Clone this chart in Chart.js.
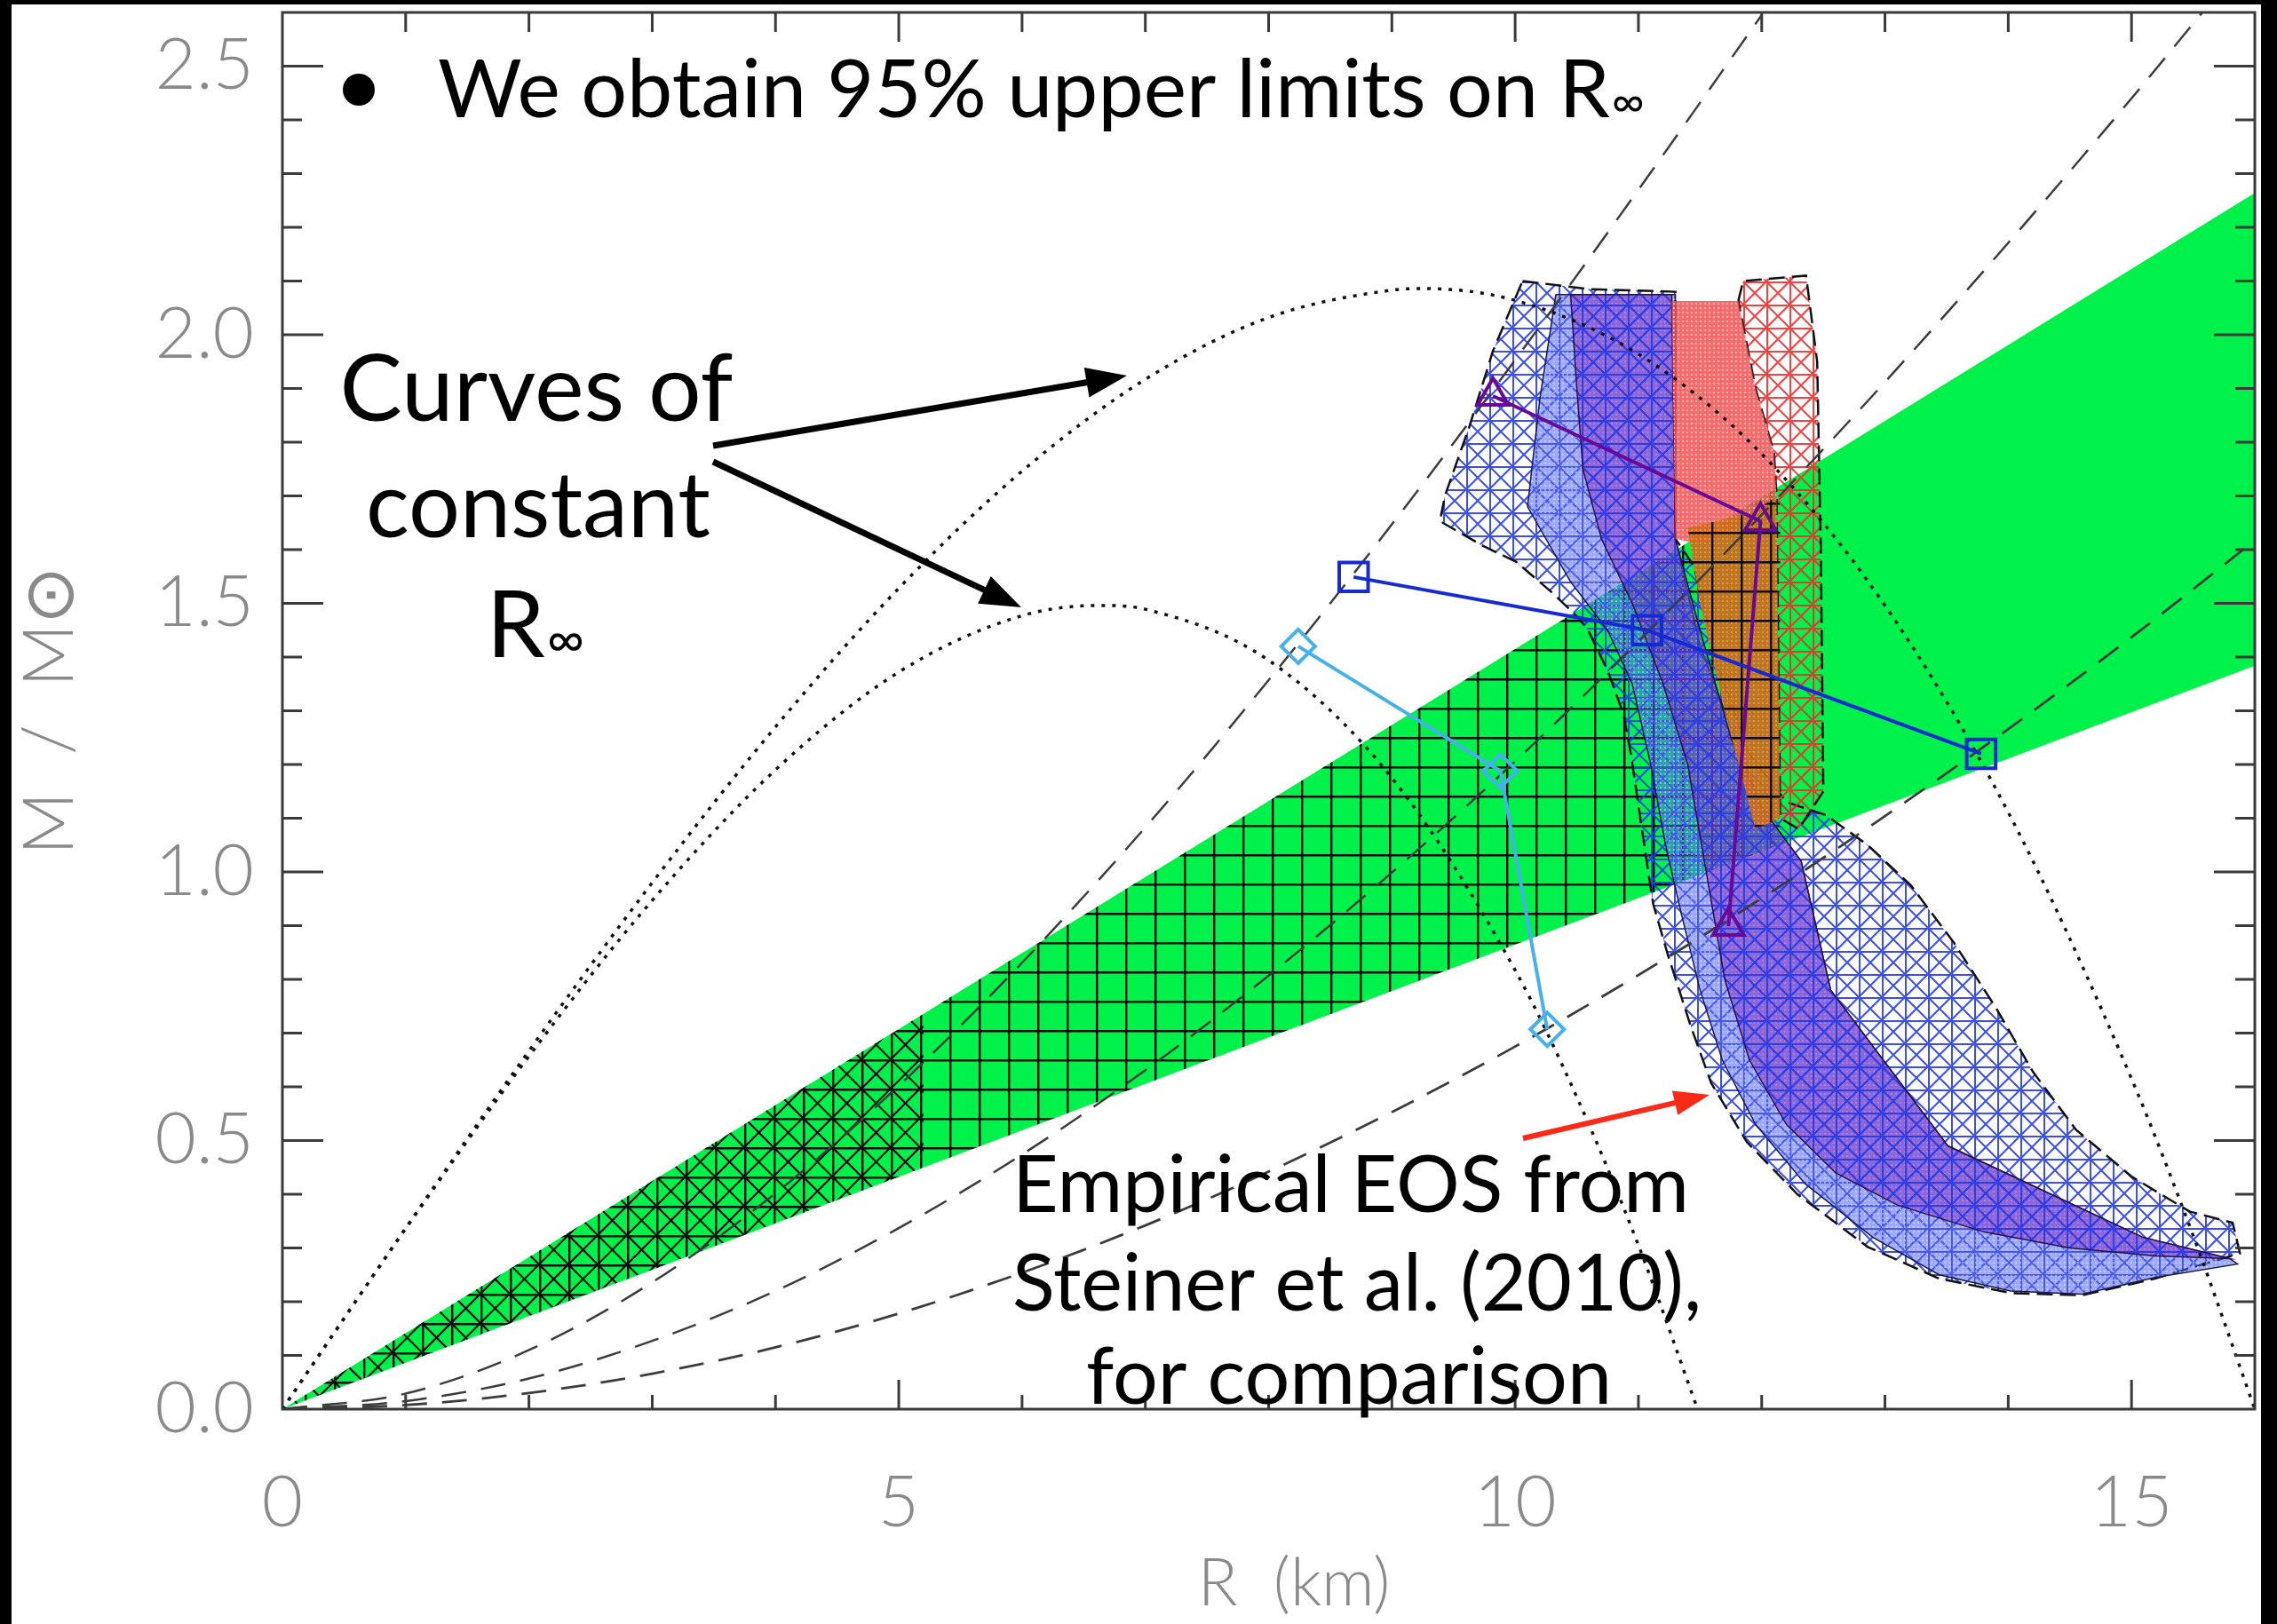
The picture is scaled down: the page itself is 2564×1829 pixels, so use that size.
<!DOCTYPE html>
<html>
<head>
<meta charset="utf-8">
<script src="https://cdn.jsdelivr.net/npm/chart.js@4.4.1/dist/chart.umd.min.js"></script>
<style>
  html, body { margin: 0; padding: 0; background: #000; }
  body { width: 2564px; height: 1829px; overflow: hidden; position: relative; }
  #grafico { position: absolute; left: 13px; top: 5px; }
</style>
</head>
<body>
<canvas id="grafico" width="2533" height="1824"></canvas>
<script>
// ---------------- dados ----------------
const xMajor = [0, 5, 10, 15];
const yMajor = [0, 0.5, 1, 1.5, 2, 2.5];

// curvas de R_inf constante (pontilhadas)
const rInfAlta = [[0,0],[1,0.337],[2,0.667],[3,0.980],[4,1.270],[5,1.528],[6,1.746],[7,1.917],[8,2.032],[9,2.083],[9.24,2.086],[10,2.064],[11,1.964],[12,1.778],[13,1.496],[14,1.111],[15,0.615],[15.5,0.323],[16,0]];
const rInfBaixa = [[0,0],[1,0.336],[2,0.657],[3,0.947],[4,1.190],[5,1.372],[6,1.477],[6.63,1.496],[7,1.489],[8,1.394],[9,1.175],[10,0.817],[10.5,0.581],[11,0.305],[11.48,0]];

// curvas tracejadas
const tracejadaA = [[0,0],[1,0.029],[2,0.110],[3,0.236],[4,0.402],[5,0.602],[6,0.831],[7,1.083],[8,1.357],[9,1.647],[10,1.953],[11,2.270],[12,2.595]];
const tracejadaB = [[0,0],[1,0.015],[2,0.057],[3,0.127],[4,0.220],[5,0.337],[6,0.474],[7,0.631],[8,0.807],[9,0.999],[10,1.206],[11,1.429],[12,1.665],[13,1.912],[14,2.171],[15,2.440],[15.6,2.607]];
const tracejadaC = [[0,0],[1,0.0075],[2,0.030],[3,0.066],[4,0.115],[5,0.178],[6,0.254],[7,0.342],[8,0.442],[9,0.553],[10,0.675],[11,0.808],[12,0.951],[13,1.104],[14,1.266],[15,1.437],[16,1.617]];

// faixa verde
const faixaVerde = [[0,0],[16,2.264],[16,1.384]];
const verdeGrade = [[0,0],[12.15,1.719],[12.15,1.051]];
const verdeX = [[0,0],[5.2,0.736],[5.2,0.450]];

// regioes Steiner et al.
const azul2s = [[10.06,2.10],[10.6,2.085],[11.3,2.08],[11.3,1.62],[11.45,1.57],[11.65,1.38],[11.9,1.22],[12.2,1.13],[12.52,1.106],[12.86,1.05],[13.21,0.975],[13.56,0.868],[13.9,0.747],[14.2,0.628],[14.55,0.52],[15.0,0.433],[15.47,0.368],[15.82,0.347],[15.88,0.29],[15.19,0.243],[14.6,0.212],[14.02,0.216],[13.44,0.243],[12.86,0.302],[12.29,0.40],[11.88,0.497],[11.59,0.607],[11.42,0.716],[11.24,0.845],[11.12,0.94],[11.06,1.03],[10.94,1.218],[10.88,1.293],[10.75,1.375],[10.59,1.451],[10.5,1.476],[10.3,1.52],[10.01,1.577],[9.73,1.608],[9.39,1.653],[9.43,1.70],[9.63,1.83],[9.82,1.97]];
const azul1s = [[10.33,2.075],[11.3,2.075],[11.3,1.62],[11.5,1.42],[12.0,1.12],[12.32,1.02],[12.56,0.78],[13.51,0.49],[15.09,0.32],[15.8,0.28],[15.86,0.27],[15.19,0.245],[14.6,0.214],[14.02,0.22],[13.44,0.25],[12.9,0.32],[12.35,0.42],[11.95,0.53],[11.68,0.65],[11.5,0.78],[11.35,0.92],[11.22,1.05],[11.1,1.2],[10.95,1.35],[10.75,1.45],[10.45,1.54],[10.1,1.68],[10.2,1.88]];
const roxo = [[10.45,2.075],[11.27,2.075],[11.3,1.62],[11.5,1.45],[11.75,1.25],[12.0,1.12],[12.32,1.02],[12.56,0.78],[13.51,0.49],[15.09,0.32],[15.8,0.28],[15.2,0.285],[14.5,0.30],[13.8,0.33],[13.1,0.38],[12.6,0.44],[12.2,0.53],[11.9,0.65],[11.7,0.8],[11.55,1.0],[11.4,1.2],[11.2,1.35],[10.95,1.5],[10.7,1.62],[10.55,1.75],[10.5,1.9]];
const vermelho1s = [[11.27,2.063],[11.81,2.063],[11.95,1.9],[12.1,1.78],[12.12,1.70],[11.94,1.66],[11.52,1.61],[11.3,1.62]];
const laranja = [[11.40,1.64],[11.94,1.67],[12.12,1.70],[12.15,1.10],[11.95,1.08],[11.7,1.3],[11.5,1.5]];
const vermelho2s = [[11.81,2.063],[11.85,2.10],[12.36,2.11],[12.45,1.95],[12.48,1.60],[12.50,1.15],[12.3,1.08],[12.15,1.10],[12.12,1.70],[12.1,1.78],[11.95,1.9]];

// pontos com marcadores
const serieTriangulos = [[9.82,1.886],[11.99,1.653],[11.73,0.899]];
const serieQuadrados = [[8.69,1.549],[11.07,1.45],[13.78,1.22]];
const serieLosangos = [[8.24,1.42],[9.88,1.188],[10.26,0.707]];

// ---------------- estilos ----------------
const fonteEixo = "'Lato', 'DejaVu Sans', sans-serif";
const fonteTexto = "'Lato', 'Open Sans', sans-serif";
const corRotulo = '#8a8a8a';

const canvas = document.getElementById('grafico');
const ctx = canvas.getContext('2d');

function padrao(tam, desenha) {
  const c = document.createElement('canvas');
  c.width = tam; c.height = tam;
  const g = c.getContext('2d');
  desenha(g, tam);
  return ctx.createPattern(c, 'repeat');
}
function pontos(cor, corPonto) {
  return padrao(5, (g, t) => {
    g.fillStyle = cor; g.fillRect(0, 0, t, t);
    g.fillStyle = corPonto; g.fillRect(1, 1, 2, 2);
  });
}
function hachuraX(cor, tam, lw, grade) {
  return padrao(tam, (g, t) => {
    g.strokeStyle = cor; g.lineWidth = lw;
    g.beginPath();
    if (grade) {
      g.moveTo(lw / 2, 0); g.lineTo(lw / 2, t);
      g.moveTo(0, lw / 2); g.lineTo(t, lw / 2);
    }
    g.moveTo(0, 0); g.lineTo(t, t);
    g.moveTo(0, t); g.lineTo(t, 0);
    g.stroke();
  });
}

const gradeVerde = padrao(33, (g, t) => {
  g.strokeStyle = '#0b0b0b'; g.lineWidth = 2.4;
  g.beginPath();
  g.moveTo(1.2, 0); g.lineTo(1.2, t);
  g.moveTo(0, 1.2); g.lineTo(t, 1.2);
  g.stroke();
});
const xVerde = hachuraX('#0b0b0b', 33, 2.2, false);
const hachuraAzul = hachuraX('rgba(40,60,232,0.9)', 26, 2, true);
const hachuraVermelha = hachuraX('rgba(240,45,45,0.9)', 26, 2, true);

const pts = a => a.map(([x, y]) => ({ x, y }));
const fechado = a => pts(a.concat([a[0]]));

function regiao(dados, fills, borda) {
  return {
    data: fechado(dados), showLine: true, fills,
    borderColor: borda ? borda.cor : 'rgba(0,0,0,0)',
    borderWidth: borda ? borda.w : 0,
    borderDash: borda && borda.dash ? borda.dash : [],
    pointRadius: 0, tension: 0
  };
}
function curva(dados, cor, w, dash) {
  return {
    data: pts(dados), showLine: true, borderColor: cor, borderWidth: w, borderDash: dash,
    pointRadius: 0, cubicInterpolationMode: 'monotone', fill: false
  };
}
function marcadores(dados, cor, estilo, raio) {
  return {
    data: pts(dados), showLine: true, borderColor: cor, borderWidth: 4, tension: 0,
    pointStyle: estilo, pointRadius: raio, pointBorderWidth: 4, pointBorderColor: cor,
    pointBackgroundColor: 'rgba(0,0,0,0)'
  };
}

// de baixo para cima
const camadas = [
  regiao(faixaVerde, ['rgb(0,242,74)']),
  regiao(verdeGrade, [gradeVerde]),
  regiao(verdeX, [xVerde]),
  regiao(azul2s, [hachuraAzul], { cor: '#111', w: 2.5, dash: [18, 8] }),
  regiao(azul1s, [pontos('rgba(80,98,246,0.55)', 'rgba(235,240,255,0.45)')], { cor: '#1a1a40', w: 1.5 }),
  regiao(vermelho2s, [hachuraVermelha], { cor: '#111', w: 2.5, dash: [18, 8] }),
  regiao(roxo, [pontos('rgba(120,40,180,0.5)', 'rgba(210,120,255,0.4)'), hachuraAzul], { cor: '#2a1040', w: 1.5 }),
  regiao(vermelho1s, [pontos('rgba(245,82,82,0.85)', 'rgba(255,210,210,0.7)')]),
  regiao(laranja, [pontos('rgba(205,108,28,0.92)', 'rgba(240,160,90,0.7)'), gradeVerde]),
  curva(tracejadaA, '#3c3c3c', 2.5, [28, 17]),
  curva(tracejadaB, '#3c3c3c', 2.5, [28, 17]),
  curva(tracejadaC, '#3c3c3c', 2.8, [28, 17]),
  curva(rInfAlta, '#111', 3.5, [4, 8]),
  curva(rInfBaixa, '#111', 3.5, [4, 8]),
  marcadores(serieLosangos, 'rgb(70,176,236)', 'rectRot', 19),
  marcadores(serieQuadrados, 'rgb(22,42,212)', 'rect', 23),
  marcadores(serieTriangulos, 'rgb(104,8,150)', 'triangle', 20)
].map((d, i) => Object.assign(d, { order: 100 - i }));

// ---------------- plugins ----------------
const preenchimento = {
  id: 'preenchimento',
  beforeDatasetDraw(chart, args) {
    const ds = chart.data.datasets[args.index];
    if (!ds.fills) return;
    const a = chart.chartArea;
    const c = chart.ctx;
    c.save();
    c.beginPath(); c.rect(a.left, a.top, a.right - a.left, a.bottom - a.top); c.clip();
    c.beginPath();
    args.meta.data.forEach((p, i) => i ? c.lineTo(p.x, p.y) : c.moveTo(p.x, p.y));
    c.closePath();
    ds.fills.forEach(f => { c.fillStyle = f; c.fill(); });
    c.restore();
  }
};

function seta(c, x1, y1, x2, y2, cor, w, cab, larg) {
  const ang = Math.atan2(y2 - y1, x2 - x1);
  const bx = x2 - cab * Math.cos(ang), by = y2 - cab * Math.sin(ang);
  c.strokeStyle = cor; c.lineWidth = w; c.lineCap = 'butt';
  c.beginPath(); c.moveTo(x1, y1); c.lineTo(bx + 4 * Math.cos(ang), by + 4 * Math.sin(ang)); c.stroke();
  c.fillStyle = cor;
  c.beginPath();
  c.moveTo(x2, y2);
  c.lineTo(bx + larg / 2 * Math.sin(ang), by - larg / 2 * Math.cos(ang));
  c.lineTo(bx - larg / 2 * Math.sin(ang), by + larg / 2 * Math.cos(ang));
  c.closePath(); c.fill();
}
function textoAjustado(c, s, x, y, largura, align) {
  c.font = '100px ' + fonteTexto;
  const tam = 100 * largura / c.measureText(s).width;
  c.font = tam + 'px ' + fonteTexto;
  c.textAlign = align;
  c.fillText(s, x, y);
  return tam;
}

const moldura = {
  id: 'moldura',
  beforeDraw(chart) {
    const c = chart.ctx;
    c.save(); c.fillStyle = '#fff'; c.fillRect(0, 0, chart.width, chart.height); c.restore();
  },
  afterDatasetsDraw(chart) {
    const c = chart.ctx, a = chart.chartArea, x = chart.scales.x, y = chart.scales.y;
    c.save();
    c.strokeStyle = '#3a3a3a'; c.lineWidth = 3;
    c.strokeRect(a.left, a.top, a.right - a.left, a.bottom - a.top);
    c.beginPath();
    for (let r = 1; r < 16; r++) {
      const px = x.getPixelForValue(r);
      const maior = r % 5 === 0;
      c.moveTo(px, a.bottom); c.lineTo(px, a.bottom - (maior ? 33 : 16));
      c.moveTo(px, a.top); c.lineTo(px, a.top + (maior ? 33 : 22));
    }
    for (let k = 1; k <= 25; k++) {
      const py = y.getPixelForValue(k / 10);
      const L = k % 5 === 0 ? 46 : 22;
      c.moveTo(a.left, py); c.lineTo(a.left + L, py);
      c.moveTo(a.right, py); c.lineTo(a.right - L, py);
    }
    c.stroke();
    c.restore();
  },
  afterDraw(chart) {
    const c = chart.ctx;
    c.save();
    c.fillStyle = '#000';
    c.textBaseline = 'alphabetic';

    // marcador e frase do topo
    c.beginPath(); c.arc(391, 96, 18, 0, 2 * Math.PI); c.fill();
    c.font = '100px ' + fonteTexto;
    const s1 = 'We obtain 95% upper limits on R';
    const w1 = c.measureText(s1).width;
    c.font = '55px ' + fonteTexto;
    const w2 = c.measureText('\u221e').width;
    const t1 = 100 * 1357 / (w1 + w2);
    c.font = t1 + 'px ' + fonteTexto; c.textAlign = 'left';
    c.fillText(s1, 480, 127);
    const fim = 480 + c.measureText(s1).width;
    c.font = (t1 * 0.55) + 'px ' + fonteTexto;
    c.fillText('\u221e', fim + 2, 127);

    // curvas de R_inf constante
    const t2 = textoAjustado(c, 'Curves of', 591, 469, 443, 'center');
    textoAjustado(c, 'constant', 593, 600, 388, 'center');
    c.font = t2 + 'px ' + fonteTexto;
    const wr = c.measureText('R').width;
    c.font = (t2 * 0.55) + 'px ' + fonteTexto;
    const wi = c.measureText('\u221e').width;
    const x0 = 589 - (wr + wi) / 2;
    c.textAlign = 'left';
    c.font = t2 + 'px ' + fonteTexto; c.fillText('R', x0, 735);
    c.font = (t2 * 0.55) + 'px ' + fonteTexto; c.fillText('\u221e', x0 + wr + 2, 735);

    seta(c, 790, 497, 1256, 418, '#000', 7, 46, 34);
    seta(c, 790, 515, 1137, 679, '#000', 7, 46, 34);

    // EOS empirica
    textoAjustado(c, 'Empirical EOS from', 1508, 1360, 762, 'center');
    textoAjustado(c, 'Steiner et al. (2010),', 1515, 1471, 776, 'center');
    textoAjustado(c, 'for comparison', 1506, 1576, 592, 'center');
    seta(c, 1702, 1277, 1912, 1228, 'rgb(250,42,22)', 6, 40, 28);
    c.restore();
  }
};

// ---------------- grafico ----------------
new Chart(ctx, {
  type: 'scatter',
  data: { datasets: camadas },
  options: {
    responsive: false,
    animation: false,
    layout: { autoPadding: false, padding: { top: 9, right: 7, left: 0, bottom: 0 } },
    plugins: { legend: { display: false }, tooltip: { enabled: false } },
    scales: {
      x: {
        type: 'linear', min: 0, max: 16,
        afterFit: s => { s.height = 242; s.paddingLeft = 0; s.paddingRight = 0; },
        afterBuildTicks: s => { s.ticks = xMajor.map(v => ({ value: v })); },
        grid: { display: false }, border: { display: false },
        ticks: {
          color: corRotulo, padding: 50, maxRotation: 0, autoSkip: false,
          font: { family: fonteEixo, size: 80, weight: '300' },
          callback: v => String(v)
        },
        title: {
          display: true, text: '\u2002 R  (km)', color: corRotulo,
          font: { family: fonteEixo, size: 74, weight: '300', lineHeight: 1.2 },
          padding: { top: 0, bottom: 0 }
        }
      },
      y: {
        type: 'linear', min: 0, max: 2.6,
        afterFit: s => { s.width = 305; s.paddingTop = 0; s.paddingBottom = 0; },
        afterBuildTicks: s => { s.ticks = yMajor.map(v => ({ value: v })); },
        grid: { display: false }, border: { display: false },
        ticks: {
          color: corRotulo, padding: 24, autoSkip: false,
          font: { family: fonteEixo, size: 80, weight: '300' },
          callback: v => v.toFixed(1)
        },
        title: {
          display: true, text: 'M  /  M\u2299', color: corRotulo,
          font: { family: fonteEixo, size: 78, weight: '300', lineHeight: 1.1 },
          padding: { top: 1, bottom: 0 }
        }
      }
    }
  },
  plugins: [preenchimento, moldura]
});
</script>
</body>
</html>
